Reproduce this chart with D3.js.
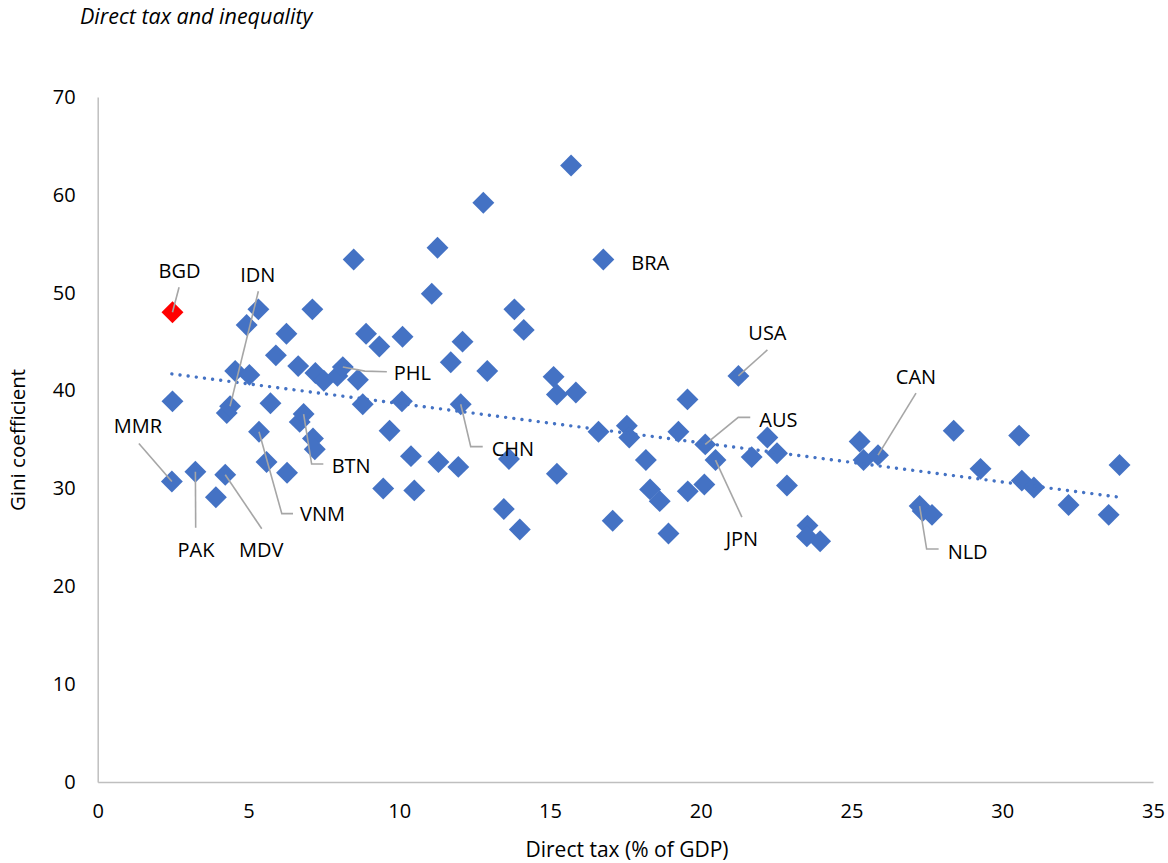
<!DOCTYPE html>
<html><head><meta charset="utf-8">
<script src="https://cdn.jsdelivr.net/npm/d3@7"></script>
<style>body{margin:0;background:#fff}svg{display:block}text{font-family:"Open Sans",sans-serif;fill:#000}</style>
</head><body><svg id="c" width="1168" height="863"></svg>
<script>
// ---- data ----
const directTax = [2.48,2.48,2.46,3.24,3.92,4.23,4.28,4.39,4.56,4.94,5.03,5.33,5.35,5.6,5.73,5.91,6.26,6.28,6.65,6.70,6.83,7.12,7.14,7.2,7.22,7.5,7.95,8.13,8.49,8.63,8.79,8.9,9.34,9.47,9.68,10.09,10.11,10.39,10.5,11.08,11.27,11.3,11.71,11.96,12.04,12.1,12.79,12.92,13.47,13.64,13.82,14.0,14.13,15.12,15.23,15.23,15.7,15.86,16.61,16.77,17.08,17.55,17.63,18.18,18.32,18.64,18.93,19.26,19.56,19.57,20.12,20.15,20.49,21.25,21.69,22.21,22.53,22.86,23.54,23.52,23.96,25.27,25.40,25.88,27.26,27.36,27.67,28.39,29.28,30.56,30.65,31.05,32.2,33.53,33.89];
const gini      = [48.0,38.9,30.7,31.7,29.1,31.4,37.7,38.4,42.0,46.7,41.6,48.3,35.8,32.7,38.7,43.6,45.8,31.6,42.5,36.8,37.6,48.3,35.1,34.0,41.8,41.0,41.5,42.4,53.4,41.1,38.6,45.8,44.5,30.0,35.9,38.9,45.5,33.3,29.8,49.9,54.6,32.7,42.9,32.2,38.6,45.0,59.2,42.0,27.9,33.0,48.3,25.8,46.2,41.4,39.6,31.5,63.0,39.8,35.8,53.4,26.7,36.4,35.2,32.9,29.9,28.7,25.4,35.8,39.1,29.7,30.4,34.5,32.9,41.5,33.2,35.2,33.6,30.3,26.2,25.1,24.6,34.8,32.9,33.4,28.2,27.7,27.3,35.9,32.0,35.4,30.8,30.1,28.3,27.3,32.4];
const country   = ["BGD","","MMR","PAK","","MDV","","IDN","","","","","VNM","","","","","","","","BTN","","","","","","","PHL","","","","","","","","","","","","","","","","","CHN","","","","","","","","","","","","","","","BRA","","","","","","","","","","","","AUS","JPN","USA","","","","","","","","","","CAN","NLD","","","","","","","","",""];
const highlighted = ["BGD"];
const trendX = [2.46, 33.89];
const trendY = [41.7, 29.1];
const xTicks = [0,5,10,15,20,25,30,35];
const yTicks = [0,10,20,30,40,50,60,70];
const chartTitle = "Direct tax and inequality";
const xTitle = "Direct tax (% of GDP)";
const yTitle = "Gini coefficient";

// ---- label layout (pixel offsets from point) ----
const labelLayout = {
  BGD:{t:[7,-42],a:"middle",p:[[6.6,-25]]},
  IDN:{t:[27.7,-132],a:"middle",p:[[28.3,-115]]},
  MMR:{t:[-34,-56],a:"middle",p:[[-33,-38]]},
  PAK:{t:[0.6,78],a:"middle",p:[[0.3,56]]},
  MDV:{t:[36,75],a:"middle",p:[[36.5,54]]},
  VNM:{t:[41,82],a:"start",p:[[22.8,82],[34,82]]},
  BTN:{t:[28,51],a:"start",p:[[8,50],[19.7,50]]},
  PHL:{t:[51,5],a:"start",p:[[22,4],[44,4.6]]},
  CHN:{t:[31,44],a:"start",p:[[10,42.4],[22,42.4]]},
  BRA:{t:[28,2.6],a:"start",p:[]},
  USA:{t:[29,-43],a:"middle",p:[[29,-26]]},
  AUS:{t:[54,-25],a:"start",p:[[33,-27],[45,-27]]},
  JPN:{t:[26.4,78],a:"middle",p:[[26.4,57]]},
  CAN:{t:[38,-79],a:"middle",p:[[38,-62]]},
  NLD:{t:[28,45],a:"start",p:[[7,43],[19,43]]}
};

const svg = d3.select("#c");
const x = d3.scaleLinear().domain([0,35]).range([97.7,1153]);
const y = d3.scaleLinear().domain([0,70]).range([782,97]);
const blue = "#4472C4", grey = "#A6A6A6", axisGrey = "#BFBFBF";

// title
svg.append("text").attr("x",80).attr("y",15).attr("dominant-baseline","central")
  .style("font-style","italic").style("font-size","21.5px").text(chartTitle);

// axes
const gx = svg.append("g").attr("transform","translate(0,782)")
  .call(d3.axisBottom(x).tickValues(xTicks).tickSize(0).tickPadding(22).tickFormat(d3.format("d")));
gx.select(".domain").attr("stroke",axisGrey).attr("stroke-width",1.5);
gx.selectAll("text").style("font-size","20px").attr("font-family","Open Sans").attr("fill","#000");
const gy = svg.append("g").attr("transform","translate(97.7,0)")
  .call(d3.axisLeft(y).tickValues(yTicks).tickSize(0).tickPadding(22).tickFormat(d3.format("d")));
gy.select(".domain").attr("stroke",axisGrey).attr("stroke-width",1.5);
gy.selectAll("text").style("font-size","20px").attr("font-family","Open Sans").attr("fill","#000");

// axis titles
svg.append("text").attr("x",627).attr("y",849).attr("text-anchor","middle").attr("dominant-baseline","central")
  .style("font-size","21px").text(xTitle);
svg.append("text").attr("transform","translate(17,440) rotate(-90)").attr("text-anchor","middle").attr("dominant-baseline","central")
  .style("font-size","20.5px").text(yTitle);

// points
const pts = directTax.map((d,i)=>({x:d,y:gini[i],c:country[i]}));
const sym = d3.symbol().type(d3.symbolSquare).size(240);
svg.append("g").selectAll("path").data(pts).join("path")
  .attr("d",sym)
  .attr("transform",d=>`translate(${x(d.x)},${y(d.y)}) rotate(45)`)
  .attr("fill",d=>highlighted.includes(d.c)?"#FF0000":blue);

// trendline
svg.append("path")
  .attr("d",d3.line().x(d=>x(d[0])).y(d=>y(d[1]))(trendX.map((v,i)=>[v,trendY[i]])))
  .attr("fill","none").attr("stroke",blue).attr("stroke-width",3.4)
  .attr("stroke-linecap","round").attr("stroke-dasharray","0.01 8.2");

// labels
const lg = svg.append("g");
pts.filter(d=>d.c).forEach(d=>{
  const L = labelLayout[d.c]; if(!L) return;
  const px = x(d.x), py = y(d.y);
  if(L.p.length){
    const path = [[px,py]].concat(L.p.map(q=>[px+q[0],py+q[1]]));
    lg.append("path").attr("d",d3.line()(path)).attr("fill","none").attr("stroke",grey).attr("stroke-width",1.6);
  }
  lg.append("text").attr("x",px+L.t[0]).attr("y",py+L.t[1]).attr("text-anchor",L.a)
    .attr("dominant-baseline","central").style("font-size","20px").text(d.c);
});
</script></body></html>
